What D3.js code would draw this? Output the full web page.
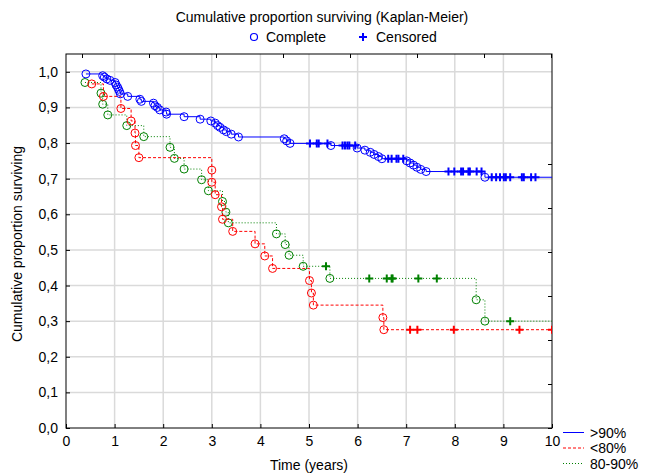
<!DOCTYPE html>
<html>
<head>
<meta charset="utf-8">
<script src="https://cdn.jsdelivr.net/npm/d3@7"></script>
<style>
  body { margin: 0; background: #fff; }
  text { font-family: Arial, "Liberation Sans", sans-serif; }
</style>
</head>
<body>
<div id="chart"></div>
<script>
// Kaplan-Meier data: complete events as [time, survival], censored as times
var gt90Complete = [
  [0.41, 0.994], [0.755, 0.989], [0.79, 0.985], [0.84, 0.980], [0.905, 0.976],
  [1.01, 0.970], [1.03, 0.963], [1.06, 0.957], [1.08, 0.951], [1.10, 0.945],
  [1.12, 0.938], [1.27, 0.931], [1.52, 0.923], [1.55, 0.917], [1.80, 0.912],
  [1.83, 0.905], [1.88, 0.900], [1.93, 0.893], [2.06, 0.887], [2.07, 0.881],
  [2.43, 0.874], [2.76, 0.867], [2.98, 0.862], [3.07, 0.856], [3.12, 0.849],
  [3.17, 0.844], [3.24, 0.837], [3.30, 0.832], [3.40, 0.825], [3.55, 0.817],
  [4.49, 0.812], [4.54, 0.806], [4.61, 0.799], [5.45, 0.793], [5.99, 0.786],
  [6.15, 0.780], [6.26, 0.774], [6.34, 0.768], [6.43, 0.762], [6.50, 0.756],
  [7.01, 0.750], [7.08, 0.744], [7.15, 0.738], [7.22, 0.732], [7.30, 0.726],
  [7.41, 0.720], [8.62, 0.704]
];
var gt90Censored = [5.02, 5.16, 5.20, 5.38, 5.69, 5.74, 5.79, 5.83, 5.95,
  6.63, 6.70, 6.80, 6.84, 6.94, 7.87, 7.99, 8.13, 8.17, 8.28, 8.31, 8.45, 8.55,
  8.76, 8.85, 8.93, 9.01, 9.05, 9.14, 9.38, 9.42, 9.57, 9.66];

var lt80Complete = [
  [0.53, 0.966], [0.77, 0.931], [1.13, 0.897], [1.34, 0.862], [1.42, 0.828],
  [1.43, 0.793], [1.50, 0.759], [3.00, 0.724], [3.00, 0.690], [3.07, 0.655],
  [3.20, 0.621], [3.22, 0.586], [3.43, 0.552], [3.89, 0.517], [4.09, 0.483],
  [4.25, 0.448], [5.01, 0.414], [5.05, 0.379], [5.09, 0.345], [6.52, 0.310],
  [6.54, 0.276]
];
var lt80Censored = [7.08, 7.23, 7.98, 9.33, 10.0];

var midComplete = [
  [0.39, 0.970], [0.72, 0.940], [0.755, 0.909], [0.86, 0.879], [1.25, 0.849],
  [1.60, 0.818], [2.14, 0.788], [2.23, 0.757], [2.43, 0.727], [2.79, 0.697],
  [2.93, 0.666], [3.22, 0.636], [3.29, 0.606], [3.34, 0.576], [4.33, 0.545],
  [4.51, 0.515], [4.59, 0.485], [4.88, 0.454], [5.43, 0.420], [8.44, 0.360],
  [8.62, 0.300]
];
var midCensored = [5.35, 6.24, 6.60, 6.70, 6.72, 7.25, 7.63, 9.14];

var groupNames = [">90%", "<80%", "80-90%"];
var groupColors = ["#0000ff", "#ff0000", "#008000"];
var groupDash = [null, "3,2", "1,2"];
var xTicks = [0, 1, 2, 3, 4, 5, 6, 7, 8, 9, 10];
var yTicks = [0, 0.1, 0.2, 0.3, 0.4, 0.5, 0.6, 0.7, 0.8, 0.9, 1.0];
var tEnd = 10;

var groups = [
  {name: groupNames[0], color: groupColors[0], dash: groupDash[0], complete: gt90Complete, censored: gt90Censored},
  {name: groupNames[1], color: groupColors[1], dash: groupDash[1], complete: lt80Complete, censored: lt80Censored},
  {name: groupNames[2], color: groupColors[2], dash: groupDash[2], complete: midComplete, censored: midCensored}
];

var W = 646, H = 473;
var margin = {top: 54, right: 94, bottom: 45, left: 66};
var width = W - margin.left - margin.right,
    height = H - margin.top - margin.bottom;

var x = d3.scaleLinear().domain([0, 10]).range([0, width]);
var y = d3.scaleLinear().domain([0, 1.05]).range([height, 0]);

var svg = d3.select("#chart").append("svg")
    .attr("width", W)
    .attr("height", H);

var g = svg.append("g")
    .attr("transform", "translate(" + margin.left + "," + margin.top + ")");

g.append("clipPath").attr("id", "clip")
  .append("rect").attr("width", width).attr("height", height);

// grid
g.selectAll(".gx").data(xTicks.slice(1, -1)).enter().append("line")
    .attr("x1", function(d) { return x(d); }).attr("x2", function(d) { return x(d); })
    .attr("y1", 0).attr("y2", height)
    .attr("stroke", "#dadada").attr("stroke-width", 1.5);
g.selectAll(".gy").data(yTicks.slice(1)).enter().append("line")
    .attr("x1", 0).attr("x2", width)
    .attr("y1", function(d) { return y(d); }).attr("y2", function(d) { return y(d); })
    .attr("stroke", "#dadada").attr("stroke-width", 1.5);

// axes
var xAxis = g.append("g")
    .attr("transform", "translate(0," + height + ")")
    .call(d3.axisBottom(x).tickValues(xTicks).tickSize(-4).tickPadding(8).tickFormat(d3.format("d")));
var yAxis = g.append("g")
    .call(d3.axisLeft(y).tickValues(yTicks).tickSize(-4).tickPadding(8)
      .tickFormat(function(d) { return d3.format(".1f")(d).replace(".", ","); }));
[xAxis, yAxis].forEach(function(a) {
  a.selectAll("text").style("font-size", "14px").attr("fill", "#000");
  a.select(".domain").remove();
});

// secondary (unlabelled) ticks on top and right
var topTicks = d3.scaleLinear().domain([0, 7]).range([16, 485]);
g.append("g")
    .call(d3.axisTop(topTicks).ticks(7).tickSize(-4).tickFormat(""))
    .select(".domain").remove();
var rightTicks = d3.scaleLinear().domain([0, 6]).range([height, 110]);
g.append("g")
    .attr("transform", "translate(" + width + ",0)")
    .call(d3.axisRight(rightTicks).ticks(6).tickSize(-4).tickFormat(""))
    .select(".domain").remove();

g.append("rect")
    .attr("width", width).attr("height", height)
    .attr("fill", "none").attr("stroke", "#000").attr("stroke-width", 1);

function levelAt(complete, t) {
  var s = 1;
  complete.forEach(function(c) { if (c[0] <= t) s = c[1]; });
  return s;
}

var plot = g.append("g").attr("clip-path", "url(#clip)");
var line = d3.line()
    .x(function(d) { return x(d[0]); })
    .y(function(d) { return y(d[1]); })
    .curve(d3.curveStepAfter);

groups.slice().reverse().forEach(function(grp) {
  var pts = grp.complete.map(function(c) { return [c[0], c[1]]; });
  grp.censored.forEach(function(t) { pts.push([t, levelAt(grp.complete, t)]); });
  pts.sort(function(a, b) { return a[0] - b[0] || b[1] - a[1]; });
  pts.push([tEnd, pts[pts.length - 1][1]]);

  plot.append("path")
      .datum(pts)
      .attr("d", line)
      .attr("fill", "none")
      .attr("stroke", grp.color)
      .attr("stroke-width", 1)
      .attr("stroke-dasharray", grp.dash);

  plot.selectAll(null).data(grp.complete).enter().append("circle")
      .attr("cx", function(d) { return x(d[0]); })
      .attr("cy", function(d) { return y(d[1]); })
      .attr("r", 4)
      .attr("fill", "none")
      .attr("stroke", grp.color)
      .attr("stroke-width", 1);

  plot.selectAll(null).data(grp.censored).enter().append("path")
      .attr("transform", function(d) {
        return "translate(" + x(d) + "," + y(levelAt(grp.complete, d)) + ")";
      })
      .attr("d", "M-4,0H4M0,-4V4")
      .attr("stroke", grp.color)
      .attr("stroke-width", 2);
});

// titles
svg.append("text")
    .attr("x", 322).attr("y", 22)
    .attr("text-anchor", "middle")
    .style("font-size", "14px")
    .text("Cumulative proportion surviving (Kaplan-Meier)");

svg.append("circle").attr("cx", 254).attr("cy", 37).attr("r", 3.5)
    .attr("fill", "none").attr("stroke", "#0000ff").attr("stroke-width", 1.2);
svg.append("text").attr("x", 266).attr("y", 42).style("font-size", "14px").text("Complete");
svg.append("path").attr("transform", "translate(363,37)")
    .attr("d", "M-4,0H4M0,-4V4").attr("stroke", "#0000ff").attr("stroke-width", 2);
svg.append("text").attr("x", 376).attr("y", 42).style("font-size", "14px").text("Censored");

svg.append("text")
    .attr("transform", "translate(22," + (margin.top + 190) + ") rotate(-90)")
    .attr("text-anchor", "middle")
    .style("font-size", "14px")
    .text("Cumulative proportion surviving");

svg.append("text")
    .attr("x", margin.left + width / 2).attr("y", 470)
    .attr("text-anchor", "middle")
    .style("font-size", "14px")
    .text("Time (years)");

// group legend bottom right
var leg = svg.append("g").attr("transform", "translate(563,432.5)");
groups.forEach(function(grp, i) {
  leg.append("line")
      .attr("x1", 0).attr("x2", 21)
      .attr("y1", i * 15.5).attr("y2", i * 15.5)
      .attr("stroke", grp.color)
      .attr("stroke-width", 1)
      .attr("stroke-dasharray", grp.dash);
  leg.append("text")
      .attr("x", 27).attr("y", i * 15.5 + 5)
      .style("font-size", "14px")
      .text(grp.name);
});
</script>
</body>
</html>
